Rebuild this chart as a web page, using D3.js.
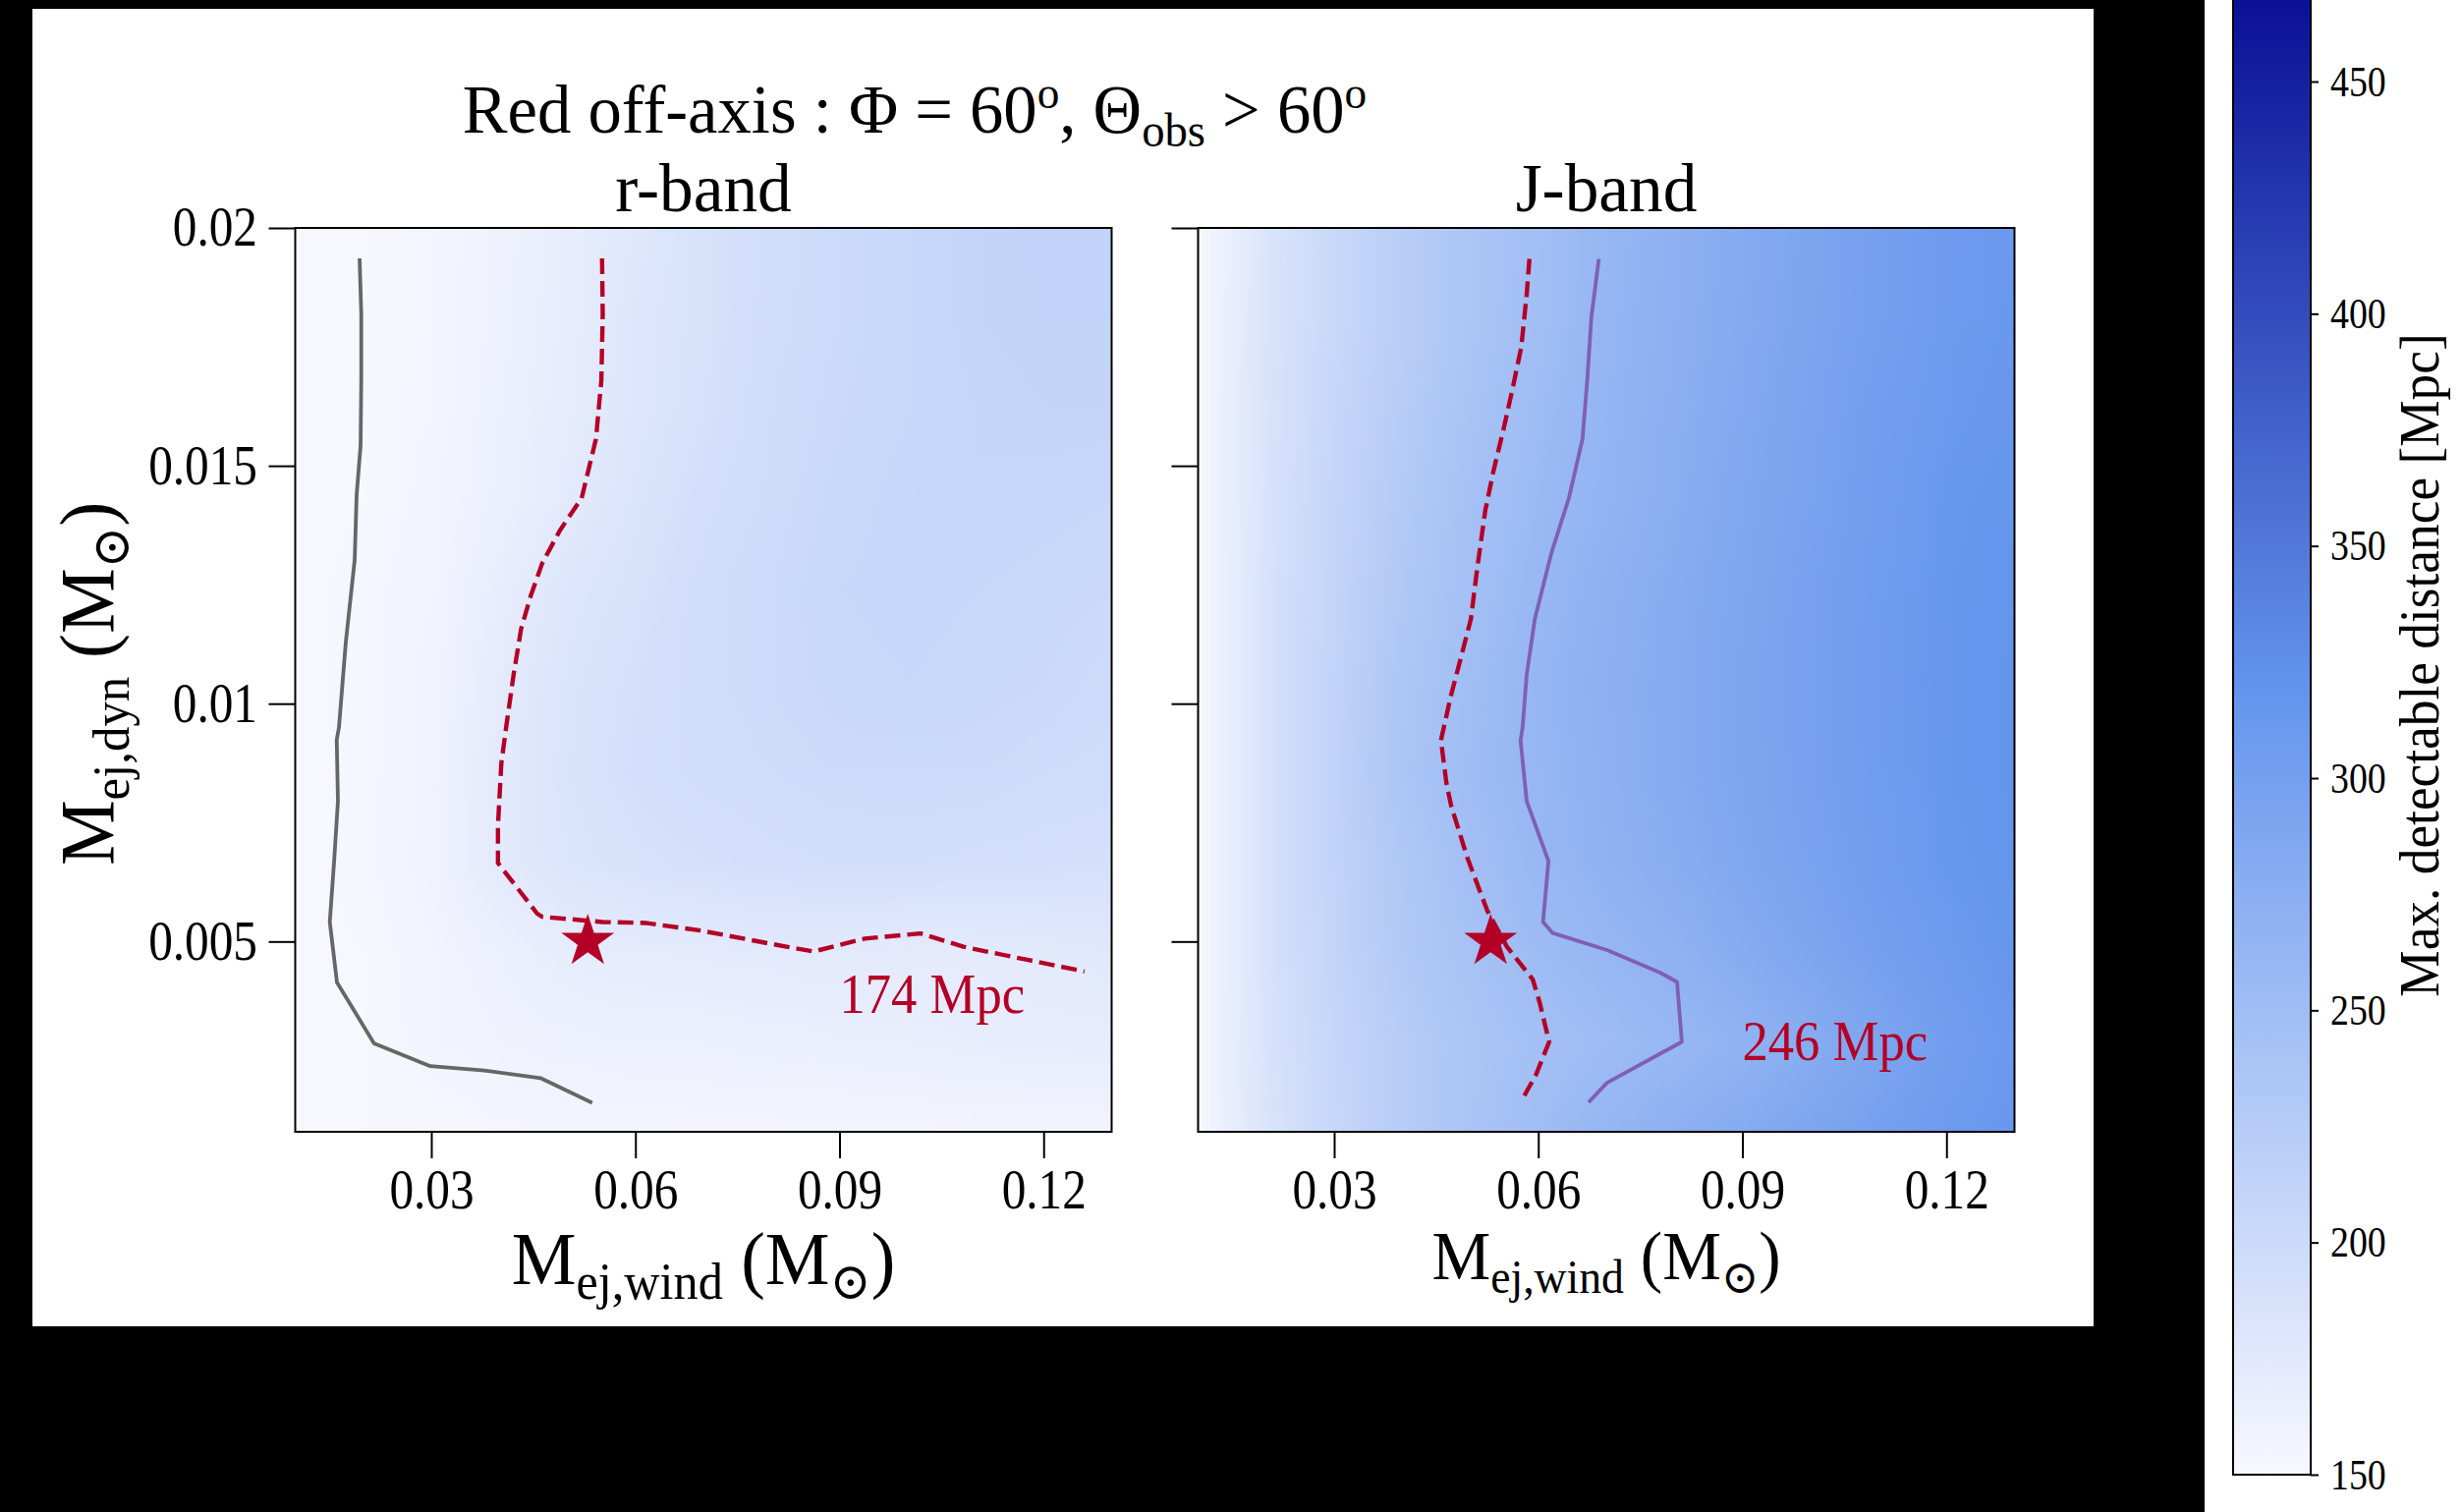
<!DOCTYPE html>
<html>
<head>
<meta charset="utf-8">
<script src="https://cdn.jsdelivr.net/npm/d3@7"></script>
<style>
  html, body { margin: 0; padding: 0; background: #000; }
  svg { display: block; }
  text { font-family: "Liberation Serif", "DejaVu Serif", serif; fill: #000; }
</style>
</head>
<body>
<svg id="fig" width="2506" height="1539"></svg>
<script>
// grid nodes of the detectable-distance maps
const xNodes = [0.01, 0.02, 0.03, 0.04, 0.05, 0.06, 0.07, 0.08, 0.09, 0.10, 0.11, 0.12, 0.13];
const yNodes = [0.001, 0.0029, 0.0048, 0.0067, 0.0086, 0.0105, 0.0124, 0.0143, 0.0162, 0.0181, 0.02];

// max detectable distance [Mpc], rows from bottom (yNodes[0]) to top
const rBand = [
  [150, 151, 152, 153, 154, 154, 155, 155, 155, 155, 156, 156, 156],
  [150, 152, 156, 159, 161, 162, 163, 164, 165, 166, 167, 168, 169],
  [150, 152, 157, 163, 169, 171, 172, 173, 174, 172, 172, 174, 176],
  [150, 153, 159, 174, 183, 188, 190, 192, 193, 193, 192, 191, 190],
  [150, 153, 158, 174, 185, 191, 194, 197, 199, 200, 199, 197, 195],
  [150, 153, 158, 172, 184, 190, 195, 199, 203, 204, 203, 201, 198],
  [150, 153, 157, 168, 181, 188, 195, 200, 204, 206, 205, 203, 201],
  [150, 152, 156, 164, 173, 184, 192, 198, 203, 206, 207, 206, 205],
  [150, 152, 155, 162, 170, 181, 189, 196, 201, 205, 208, 209, 209],
  [150, 151, 154, 161, 169, 180, 188, 195, 200, 205, 209, 211, 211],
  [150, 151, 154, 160, 168, 178, 187, 194, 200, 205, 209, 212, 212]
];
const jBand = [
  [152, 184, 206, 224, 238, 250, 262, 272, 281, 290, 299, 308, 313],
  [152, 186, 208, 224, 236, 245, 251, 259, 267, 278, 290, 302, 311],
  [152, 187, 211, 229, 242, 252, 260, 269, 279, 289, 299, 308, 315],
  [152, 187, 212, 232, 247, 258, 268, 277, 286, 295, 304, 312, 317],
  [152, 188, 214, 237, 251, 261, 271, 280, 289, 297, 305, 313, 318],
  [152, 188, 213, 235, 249, 262, 272, 281, 290, 298, 306, 314, 318],
  [152, 187, 211, 231, 245, 259, 270, 279, 288, 297, 305, 313, 317],
  [152, 186, 209, 228, 243, 256, 266, 276, 286, 295, 304, 312, 316],
  [152, 185, 207, 225, 240, 252, 264, 274, 284, 293, 302, 310, 314],
  [152, 184, 205, 222, 237, 248, 262, 272, 282, 291, 300, 308, 312],
  [152, 183, 204, 221, 236, 247, 261, 271, 281, 290, 299, 307, 311]
];

// contour lines [Mej,wind, Mej,dyn]
const rGray = [[0.01946, 0.01936], [0.01971, 0.01818], [0.01971, 0.01688], [0.01961, 0.01543], [0.01903, 0.01440],
  [0.01874, 0.01302], [0.01744, 0.01130], [0.01643, 0.00950], [0.01610, 0.00924], [0.01628, 0.00795],
  [0.01571, 0.00667], [0.01508, 0.00541], [0.01614, 0.00414], [0.02158, 0.00286], [0.02986, 0.00238],
  [0.03781, 0.00229], [0.04604, 0.00213], [0.05365, 0.00161]];
const rRed = [[0.0551, 0.01936], [0.0552, 0.01818], [0.0550, 0.01680], [0.0542, 0.01556], [0.0521, 0.01432],
  [0.0489, 0.01364], [0.0463, 0.01295], [0.0446, 0.01226], [0.0432, 0.01157], [0.0421, 0.01061],
  [0.0410, 0.00950], [0.0403, 0.00875], [0.0398, 0.00744], [0.0398, 0.00665], [0.0456, 0.00558],
  [0.0463, 0.00552], [0.0552, 0.00541], [0.0615, 0.00539], [0.0696, 0.00523], [0.0822, 0.00489],
  [0.0862, 0.00479], [0.0937, 0.00506], [0.1019, 0.00517], [0.1082, 0.00489], [0.1178, 0.00461],
  [0.1260, 0.00437]];
const jRed = [[0.0587, 0.01935], [0.0583, 0.01860], [0.0575, 0.01749], [0.0563, 0.01667], [0.0549, 0.01577],
  [0.0534, 0.01488], [0.0522, 0.01405], [0.0510, 0.01281], [0.0501, 0.01178], [0.0486, 0.01095],
  [0.0472, 0.01019], [0.0457, 0.00923], [0.0465, 0.00833], [0.0472, 0.00785], [0.0496, 0.00675],
  [0.0525, 0.00565], [0.0554, 0.00489], [0.0592, 0.00420], [0.0602, 0.00372], [0.0616, 0.00289],
  [0.0597, 0.00221], [0.0575, 0.00164]];
const jPurple = [[0.0689, 0.01935], [0.0678, 0.01811], [0.0672, 0.01680], [0.0665, 0.01556], [0.0645, 0.01432],
  [0.0619, 0.01315], [0.0595, 0.01178], [0.0583, 0.01061], [0.0577, 0.00950], [0.0574, 0.00923],
  [0.0583, 0.00795], [0.0615, 0.00669], [0.0607, 0.00541], [0.0621, 0.00518], [0.0701, 0.00482],
  [0.0780, 0.00434], [0.0804, 0.00415], [0.0811, 0.00289], [0.0701, 0.00203], [0.0674, 0.00162]];

// AT2017gfo-like point and contour labels
const starPoint = [0.053, 0.005];
const rNote = { text: "174 Mpc", at: [0.09, 0.0035] };
const jNote = { text: "246 Mpc", at: [0.09, 0.0025] };

const xTicks = [0.03, 0.06, 0.09, 0.12];
const yTicks = [0.005, 0.01, 0.015, 0.02];
const cbTicks = [150, 200, 250, 300, 350, 400, 450];
const cbNodes = [150, 318, 486];
const cbColors = ["#f8f8ff", "#6495ed", "#00008b"];

const RED = "#b40026";

const svg = d3.select("#fig");
svg.append("rect").attr("width", 2506).attr("height", 1539).attr("fill", "#000");
svg.append("rect").attr("x", 33).attr("y", 9).attr("width", 2098).attr("height", 1341).attr("fill", "#fff");
svg.append("rect").attr("x", 2244).attr("y", 0).attr("width", 262).attr("height", 1539).attr("fill", "#fff");

const color = d3.scaleLinear().domain(cbNodes).range(cbColors).clamp(true);

// text helper: pieces = [[str, "n"|"sub"|"sup"], ...]
function mathText(g, pieces, size, tx, ty, opts = {}) {
  const sx = opts.sx || 1;
  const rot = opts.rotate ? ` rotate(${opts.rotate})` : "";
  const t = g.append("text")
    .attr("transform", `translate(${tx},${ty})${rot} scale(${sx},1)`)
    .attr("text-anchor", opts.anchor || "middle")
    .style("font-size", size + "px")
    .style("fill", opts.fill || "#000");
  let shift = 0;
  pieces.forEach(([s, kind]) => {
    let target = 0, fs = size;
    if (kind === "sub") { target = size * 0.2; fs = size * 0.68; }
    if (kind === "sup") { target = -size * 0.36; fs = size * 0.66; }
    t.append("tspan").attr("dy", target - shift).style("font-size", fs + "px").text(s);
    shift = target;
  });
  return t;
}

// title
mathText(svg, [["Red off-axis : Φ = 60", "n"], ["o", "sup"], [", Θ", "n"], ["obs", "sub"], [" > 60", "n"], ["o", "sup"]],
  70, 931, 135, { sx: 0.98 });

const panels = [
  { name: "r-band", left: 300.5, grid: rBand, labels: true, xlabSize: 77, note: rNote,
    lines: [{ pts: rGray, stroke: "#666666", dash: null, w: 3.8 }, { pts: rRed, stroke: RED, dash: "16,7", w: 4.4 }] },
  { name: "J-band", left: 1219.5, grid: jBand, labels: false, xlabSize: 70, note: jNote,
    lines: [{ pts: jRed, stroke: RED, dash: "16,7", w: 4.4 }, { pts: jPurple, stroke: "#7f5fb4", dash: null, w: 3.8 }] }
];
const pw = 831, axTop = 232, axBottom = 1152;

panels.forEach((p, i) => {
  const x = d3.scaleLinear().domain([0.01, 0.13]).range([p.left, p.left + pw]);
  const y = d3.scaleLinear().domain([0.001, 0.02]).range([axBottom, axTop]);
  const g = svg.append("g");

  // heatmap: one pixel per grid node, smoothed by the browser on upscale
  const nx = xNodes.length, ny = yNodes.length;
  const cv = document.createElement("canvas");
  cv.width = nx; cv.height = ny;
  const ctx = cv.getContext("2d");
  const img = ctx.createImageData(nx, ny);
  p.grid.forEach((row, j) => {
    row.forEach((v, k) => {
      const c = d3.rgb(color(v));
      const idx = ((ny - 1 - j) * nx + k) * 4;
      img.data[idx] = c.r; img.data[idx + 1] = c.g; img.data[idx + 2] = c.b; img.data[idx + 3] = 255;
    });
  });
  ctx.putImageData(img, 0, 0);
  const cellW = x(xNodes[1]) - x(xNodes[0]);
  const cellH = y(yNodes[0]) - y(yNodes[1]);
  svg.append("clipPath").attr("id", "clip" + i)
    .append("rect").attr("x", p.left).attr("y", axTop).attr("width", pw).attr("height", axBottom - axTop);
  g.append("image")
    .attr("href", cv.toDataURL())
    .attr("x", x(xNodes[0]) - cellW / 2)
    .attr("y", y(yNodes[ny - 1]) - cellH / 2)
    .attr("width", cellW * nx)
    .attr("height", cellH * ny)
    .attr("preserveAspectRatio", "none")
    .attr("clip-path", `url(#clip${i})`);

  // contours
  const line = d3.line().x(d => x(d[0])).y(d => y(d[1]));
  p.lines.forEach(l => {
    g.append("path").attr("d", line(l.pts))
      .attr("fill", "none").attr("stroke", l.stroke).attr("stroke-width", l.w)
      .attr("stroke-dasharray", l.dash).attr("stroke-linejoin", "round");
  });

  // star
  g.append("path")
    .attr("d", d3.symbol(d3.symbolStar, 900)())
    .attr("transform", `translate(${x(starPoint[0])},${y(starPoint[1])})`)
    .attr("fill", RED);

  // contour label
  mathText(g, [[p.note.text, "n"]], 56, x(p.note.at[0]), y(p.note.at[1]), { sx: 0.94, anchor: "start", fill: RED });

  // spines
  g.append("rect").attr("x", p.left).attr("y", axTop).attr("width", pw).attr("height", axBottom - axTop)
    .attr("fill", "none").attr("stroke", "#000").attr("stroke-width", 2);

  // axes
  const tsx = 0.88;
  const ax = g.append("g").attr("transform", `translate(0,${axBottom})`)
    .call(d3.axisBottom(x).tickValues(xTicks).tickSize(27).tickSizeOuter(0).tickPadding(11).tickFormat(d => String(d)));
  const ay = g.append("g").attr("transform", `translate(${p.left},0)`)
    .call(d3.axisLeft(y).tickValues(yTicks).tickSize(27).tickSizeOuter(0).tickPadding(11.5)
      .tickFormat(p.labels ? (d => String(d)) : ""));
  [ax, ay].forEach(a => {
    a.attr("font-family", null).attr("font-size", null);
    a.select(".domain").remove();
    a.selectAll(".tick line").attr("stroke", "#000").attr("stroke-width", 2);
    a.selectAll(".tick text").style("font-size", "56px").attr("fill", "#000");
  });
  ax.selectAll(".tick text").attr("transform", `scale(${tsx},1)`);
  ay.selectAll(".tick text").attr("transform", `scale(${tsx},1)`).attr("x", -(27 + 11.5) / tsx);

  // subplot title and axis labels
  mathText(g, [[p.name, "n"]], 70, p.left + pw / 2, 215, { sx: 0.99 });
  mathText(g, [["M", "n"], ["ej,wind", "sub"], [" (M", "n"], ["⊙", "sub"], [")", "n"]],
    p.xlabSize, p.left + pw / 2, p.xlabSize > 72 ? 1307 : 1302, { sx: 0.96 });
  if (p.labels) {
    mathText(g, [["M", "n"], ["ej,dyn", "sub"], [" (M", "n"], ["⊙", "sub"], [")", "n"]],
      78, 115, 696, { sx: 0.96, rotate: -90 });
  }
});

// colorbar
const cb = d3.scaleLinear().domain([150, 450]).range([1501, 83]);
const barX = 2273, barW = 79;
const grad = svg.append("defs").append("linearGradient").attr("id", "cbgrad")
  .attr("gradientUnits", "userSpaceOnUse")
  .attr("x1", 0).attr("x2", 0).attr("y1", cb(cbNodes[0])).attr("y2", cb(cbNodes[2]));
cbNodes.forEach((v, k) => {
  grad.append("stop").attr("offset", (v - cbNodes[0]) / (cbNodes[2] - cbNodes[0])).attr("stop-color", cbColors[k]);
});
svg.append("rect").attr("x", barX).attr("y", cb(cbNodes[2])).attr("width", barW)
  .attr("height", cb(cbNodes[0]) - cb(cbNodes[2]))
  .attr("fill", "url(#cbgrad)").attr("stroke", "#000").attr("stroke-width", 2);
const csx = 0.86;
const ac = svg.append("g").attr("transform", `translate(${barX + barW},0)`)
  .call(d3.axisRight(cb).tickValues(cbTicks).tickSize(8).tickSizeOuter(0).tickPadding(12));
ac.attr("font-family", null).attr("font-size", null);
ac.select(".domain").remove();
ac.selectAll(".tick line").attr("stroke", "#000").attr("stroke-width", 2);
ac.selectAll(".tick text").style("font-size", "44px").attr("fill", "#000")
  .attr("transform", `scale(${csx},1)`).attr("x", 20 / csx);
mathText(svg, [["Max. detectable distance [Mpc]", "n"]], 58, 2482, 677, { sx: 0.92, rotate: -90 });
</script>
</body>
</html>
